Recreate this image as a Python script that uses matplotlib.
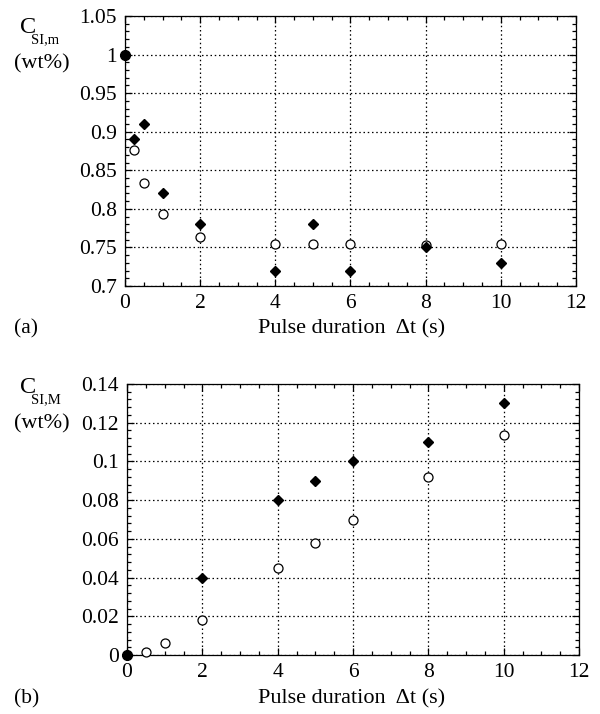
import matplotlib
matplotlib.use("Agg")
import matplotlib.pyplot as plt
from matplotlib.ticker import MultipleLocator

plt.rcParams['font.family'] = ['Liberation Serif', 'DejaVu Serif']

# Panel (a): C_SI,m (wt%)
t_a_diam = [0, 0.25, 0.5, 1, 2, 4, 5, 6, 8, 10]
c_a_diam = [1.0, 0.89, 0.91, 0.82, 0.78, 0.72, 0.78, 0.72, 0.75, 0.73]
t_a_circ = [0, 0.25, 0.5, 1, 2, 4, 5, 6, 8, 10]
c_a_circ = [1.0, 0.876, 0.833, 0.794, 0.763, 0.754, 0.754, 0.754, 0.753, 0.754]

# Panel (b): C_SI,M (wt%)
t_b_diam = [0, 2, 4, 5, 6, 8, 10]
c_b_diam = [0.0, 0.04, 0.08, 0.09, 0.10, 0.11, 0.13]
t_b_circ = [0, 0.5, 1, 2, 4, 5, 6, 8, 10]
c_b_circ = [0.0, 0.0017, 0.0064, 0.0183, 0.045, 0.058, 0.0697, 0.0922, 0.1137]

xticks = [0, 2, 4, 6, 8, 10, 12]

fig = plt.figure(figsize=(6.0, 7.14), dpi=100)

def fmt(v, pos):
    return ('%.3f' % v).rstrip('0').rstrip('.')

def style(ax, ylim, ymaj, ymin):
    ax.set_xlim(0, 12)
    ax.set_ylim(*ylim)
    ax.xaxis.set_minor_locator(MultipleLocator(0.5))
    ax.yaxis.set_major_locator(MultipleLocator(ymaj))
    ax.yaxis.set_minor_locator(MultipleLocator(ymin))
    ax.set_xticks(xticks)
    ax.set_xticklabels([str(v) for v in xticks])
    ax.tick_params(which='both', direction='in', top=True, right=True,
                   labelsize=15.5, width=0.9, pad=6)
    ax.tick_params(which='major', length=5)
    ax.tick_params(which='minor', length=3)
    ax.grid(True, which='major', color='black', linestyle=(0, (1.2, 2.2)), linewidth=0.9)
    ax.yaxis.set_major_formatter(plt.FuncFormatter(fmt))
    for s in ax.spines.values():
        s.set_linewidth(0.9)

def draw(ax, td, cd, tc, cc):
    ax.plot(tc[1:], cc[1:], linestyle='none', marker='o', ms=6.5,
            mfc='white', mec='black', mew=0.9, zorder=3, clip_on=False)
    ax.plot(td[1:], cd[1:], linestyle='none', marker='D', ms=5.2,
            mfc='black', mec='black', zorder=4, clip_on=False)
    ax.plot(tc[:1], cc[:1], linestyle='none', marker='o', ms=7,
            mfc='black', mec='black', zorder=5, clip_on=False)
    ax.plot(td[:1], cd[:1], linestyle='none', marker='D', ms=5.2,
            mfc='black', mec='black', zorder=5, clip_on=False)

ax1 = fig.add_axes([0.2083, 0.5994, 0.7517, 0.3782])
style(ax1, (0.7, 1.05), 0.05, 0.01)
draw(ax1, t_a_diam, c_a_diam, t_a_circ, c_a_circ)

ax2 = fig.add_axes([0.2117, 0.0826, 0.7533, 0.3796])
style(ax2, (0, 0.14), 0.02, 0.004)
draw(ax2, t_b_diam, c_b_diam, t_b_circ, c_b_circ)

H = 714.0
def ft(x, y, s, size, **kw):
    fig.text(x / 600.0, 1 - y / H, s, fontsize=size, **kw)

# Panel (a) labels
ft(20, 33, 'C', 17.5, ha='left', va='baseline')
ft(31, 43, 'SI,m', 10.5, ha='left', va='baseline')
ft(42, 68, '(wt%)', 16, ha='center', va='baseline')
ft(14, 333, '(a)', 15.5, ha='left', va='baseline')
ft(352, 333, 'Pulse duration  \u0394t (s)', 16, ha='center', va='baseline')

# Panel (b) labels
ft(20, 393, 'C', 17.5, ha='left', va='baseline')
ft(31, 403, 'SI,M', 10.5, ha='left', va='baseline')
ft(42, 428, '(wt%)', 16, ha='center', va='baseline')
ft(14, 703, '(b)', 15.5, ha='left', va='baseline')
ft(352, 703, 'Pulse duration  \u0394t (s)', 16, ha='center', va='baseline')

fig.savefig('out.png', dpi=100)
